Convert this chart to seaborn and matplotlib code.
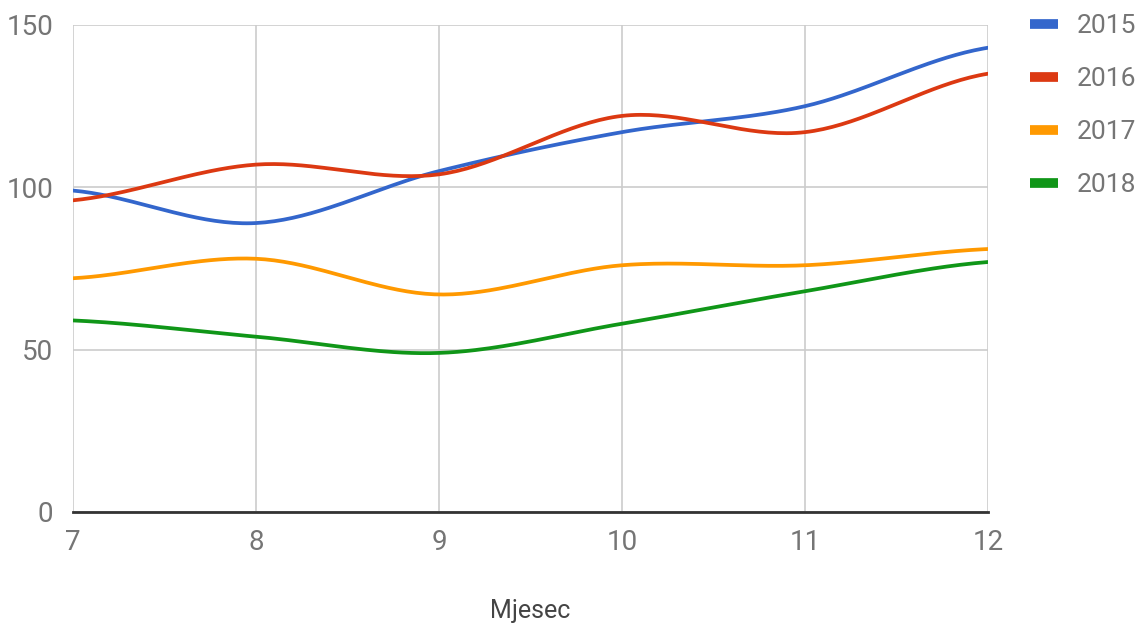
import numpy as np
import pandas as pd
import seaborn as sns
import matplotlib.pyplot as plt
from matplotlib.lines import Line2D

months = [7, 8, 9, 10, 11, 12]
years = ['2015', '2016', '2017', '2018']
v2015 = [99, 89, 105, 117, 125, 143]
v2016 = [96, 107, 104, 122, 117, 135]
v2017 = [72, 78, 67, 76, 76, 81]
v2018 = [59, 54, 49, 58, 68, 77]
colors = ['#3366cc', '#dc3912', '#ff9900', '#109618']


def smooth(xs, ys, n=40):
    # cardinal spline through the points, like the "function" curve type
    xs = np.asarray(xs, float)
    ys = np.asarray(ys, float)
    m = np.zeros_like(ys)
    m[1:-1] = (ys[2:] - ys[:-2]) / (xs[2:] - xs[:-2])
    m[0] = (ys[1] - ys[0]) / (xs[1] - xs[0]) * 0.5
    m[-1] = (ys[-1] - ys[-2]) / (xs[-1] - xs[-2]) * 0.5
    out_x, out_y = [], []
    for i in range(len(xs) - 1):
        h = xs[i + 1] - xs[i]
        t = np.linspace(0, 1, n, endpoint=False)
        h00 = 2 * t**3 - 3 * t**2 + 1
        h10 = t**3 - 2 * t**2 + t
        h01 = -2 * t**3 + 3 * t**2
        h11 = t**3 - t**2
        out_x.extend(xs[i] + t * h)
        out_y.extend(h00 * ys[i] + h10 * h * m[i] + h01 * ys[i + 1] + h11 * h * m[i + 1])
    out_x.append(xs[-1])
    out_y.append(ys[-1])
    return out_x, out_y


records = []
for yr, vals in zip(years, [v2015, v2016, v2017, v2018]):
    sx, sy = smooth(months, vals)
    for a, b in zip(sx, sy):
        records.append({'Mjesec': a, 'value': b, 'year': yr})
df = pd.DataFrame(records)

sns.set_style('white')
plt.rcParams['font.family'] = ['Roboto', 'DejaVu Sans']

fig = plt.figure(figsize=(11.46, 6.24), dpi=100)
ax = fig.add_axes([73 / 1146, 1 - 512 / 624, (988 - 73) / 1146, (512 - 25) / 624])

sns.lineplot(data=df, x='Mjesec', y='value', hue='year', palette=colors,
             sort=False, linewidth=2.7, legend=False, ax=ax, zorder=3)

ax.set_xlim(7, 12)
ax.set_ylim(0, 150)
ax.set_xticks(months)
ax.set_yticks([0, 50, 100, 150])
ax.grid(True, color='#cccccc', linewidth=1.2, zorder=0)
ax.set_axisbelow(True)
for s in ['top', 'right', 'left']:
    ax.spines[s].set_visible(False)
ax.spines['bottom'].set_color('#333333')
ax.spines['bottom'].set_linewidth(2)
ax.spines['bottom'].set_zorder(4)
ax.tick_params(axis='both', length=0, labelsize=20, labelcolor='#757575')
ax.tick_params(axis='x', pad=12)
ax.tick_params(axis='y', pad=14)
ax.set_ylabel('')
ax.set_xlabel('Mjesec', fontsize=18, color='#444444', labelpad=31)

handles = [Line2D([0], [0], color=c, linewidth=7, solid_capstyle='butt') for c in colors]
leg = fig.legend(handles, years, loc='upper left', bbox_to_anchor=(1030 / 1146, 1 - 14 / 624),
                 frameon=False, fontsize=19, handlelength=1.06, handletextpad=0.72,
                 labelspacing=1.1, borderpad=0, borderaxespad=0, labelcolor='#757575')

fig.savefig('out.png', dpi=100)
